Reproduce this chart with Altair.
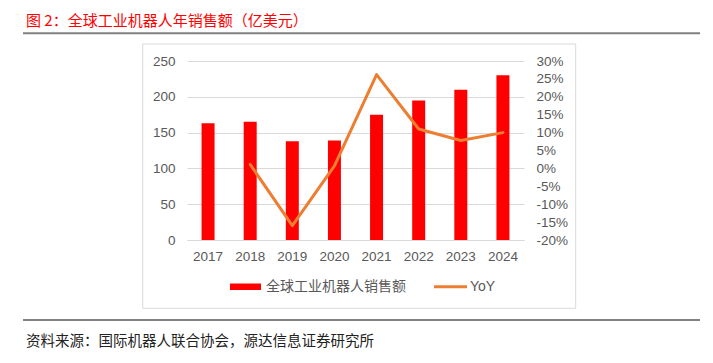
import altair as alt
import pandas as pd

# ---- data ----
years = ["2017", "2018", "2019", "2020", "2021", "2022", "2023", "2024"]
sales = [163, 165, 138, 139, 175, 195, 210, 230]          # 亿美元
yoy = [None, 1.1, -16.0, 0.7, 26.2, 11.0, 7.8, 10.0]      # %
left_ticks = [0, 50, 100, 150, 200, 250]
right_ticks = [-20, -15, -10, -5, 0, 5, 10, 15, 20, 25, 30]
title_text = "图 2：全球工业机器人年销售额（亿美元）"
source_text = "资料来源：国际机器人联合协会，源达信息证券研究所"
legend_labels = ["全球工业机器人销售额", "YoY"]

BAR = "#FF0000"
LINE = "#ED7D31"
GRAY = "#595959"
GRID = "#D9D9D9"
CJK = "Noto Sans CJK SC"
NUM = "Liberation Sans"

df = pd.DataFrame({"year": years, "sales": sales, "yoy": yoy})

x_enc = alt.X(
    "year:O", sort=years, title=None,
    scale=alt.Scale(paddingInner=0, paddingOuter=0),
    axis=alt.Axis(labelAngle=0, ticks=False, tickSize=0, domainColor=GRID,
                  labelColor=GRAY, labelFontSize=13.5, labelFont=NUM,
                  labelPadding=9),
)

bars = alt.Chart(df).mark_bar(size=13, color=BAR).encode(
    x=x_enc,
    y=alt.Y("sales:Q", title=None, scale=alt.Scale(domain=[0, 250]),
            axis=alt.Axis(values=left_ticks, grid=True, gridColor=GRID,
                          domain=False, ticks=False, tickSize=0,
                          labelColor=GRAY, labelFontSize=13.5, labelFont=NUM,
                          labelPadding=12)),
)

line = alt.Chart(df).mark_line(color=LINE, strokeWidth=3, strokeJoin="round",
                               strokeCap="round").encode(
    x=x_enc,
    y=alt.Y("yoy:Q", title=None, scale=alt.Scale(domain=[-20, 30]),
            axis=alt.Axis(orient="right", values=right_ticks, grid=False,
                          domain=False, ticks=False, tickSize=0,
                          labelColor=GRAY, labelFontSize=13.5, labelFont=NUM,
                          labelPadding=12, labelAlign="left",
                          labelExpr="datum.value + '%'")),
)


def one(val):
    return pd.DataFrame({"t": [val]})


title_layer = alt.Chart(one(title_text)).mark_text(
    align="left", baseline="alphabetic", font=CJK, fontSize=15, color="#FF0000"
).encode(x=alt.value(-161), y=alt.value(-35.5), text="t:N")

top_rule = alt.Chart(one(0)).mark_rule(color="#808080", strokeWidth=2).encode(
    x=alt.value(-164), x2=alt.value(513), y=alt.value(-27.7))

box = alt.Chart(one(0)).mark_rect(fillOpacity=0, stroke=GRID, strokeWidth=1).encode(
    x=alt.value(-44.3), x2=alt.value(388.7), y=alt.value(-17), y2=alt.value(247.3))

bottom_rule = alt.Chart(one(0)).mark_rule(color=GRAY, strokeWidth=1.5).encode(
    x=alt.value(-164), x2=alt.value(513), y=alt.value(259))

source_layer = alt.Chart(one(source_text)).mark_text(
    align="left", baseline="alphabetic", font=CJK, fontSize=14.5, color="#222222"
).encode(x=alt.value(-161), y=alt.value(284.5), text="t:N")

leg_bar = alt.Chart(one(0)).mark_rect(color=BAR).encode(
    x=alt.value(43), x2=alt.value(74), y=alt.value(222.5), y2=alt.value(229))

leg_bar_text = alt.Chart(one(legend_labels[0])).mark_text(
    align="left", baseline="middle", font=CJK, fontSize=14, color=GRAY
).encode(x=alt.value(79), y=alt.value(225.7), text="t:N")

leg_line = alt.Chart(one(0)).mark_rule(color=LINE, strokeWidth=3).encode(
    x=alt.value(247), x2=alt.value(280), y=alt.value(225.7))

leg_line_text = alt.Chart(one(legend_labels[1])).mark_text(
    align="left", baseline="middle", font=NUM, fontSize=14, color=GRAY
).encode(x=alt.value(283), y=alt.value(225.7), text="t:N")

chart = alt.layer(
    box, bars, line, title_layer, top_rule, bottom_rule, source_layer,
    leg_bar, leg_bar_text, leg_line, leg_line_text,
).resolve_scale(y="independent").properties(
    width=337, height=179,
    padding={"left": 179, "top": 53, "right": 180, "bottom": 114},
    autosize=alt.AutoSizeParams(type="none"),
    background="white",
).configure_view(stroke="transparent")

chart.save("out.html", embed_options={"renderer": "svg", "actions": False})
